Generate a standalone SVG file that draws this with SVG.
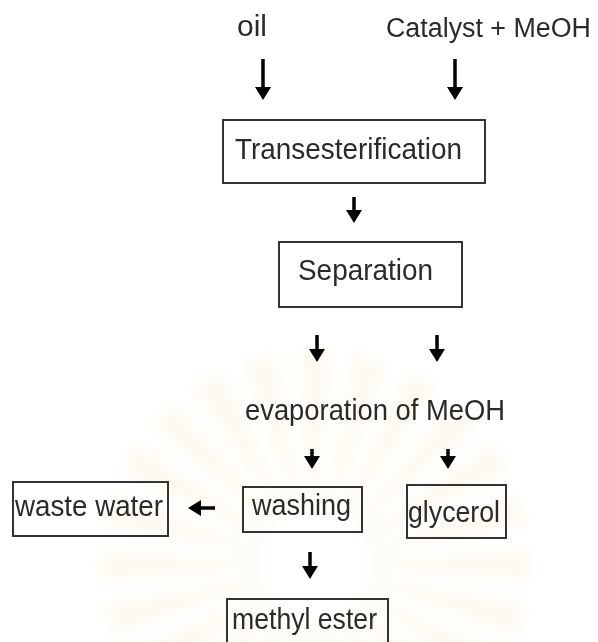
<svg xmlns="http://www.w3.org/2000/svg" xmlns:xlink="http://www.w3.org/1999/xlink" width="598" height="642" viewBox="0 0 598 642">
  <style>
    .box { fill: none; stroke: #333; stroke-width: 2; }
    .lbl { font-family: "Liberation Sans", Arial, sans-serif; font-size: 30px; fill: #2a2a2a; }
    .arr { stroke: #000; stroke-width: 3.5; fill: none; marker-end: url(#head); }
    .ray { fill: #f1dca0; }
  </style>
  <defs>
    <marker id="head" markerUnits="userSpaceOnUse" viewBox="0 0 13 16" markerWidth="13" markerHeight="16" refX="7" refY="8" orient="auto">
      <path d="M0,0 L13,8 L0,16 Z" fill="#000"/>
    </marker>
    <path id="ray" d="M-4,-55 L-17,-215 L17,-215 L4,-55 Z"/>
    <filter id="soft" x="-20%" y="-20%" width="140%" height="140%">
      <feGaussianBlur stdDeviation="6"/>
    </filter>
  </defs>
  <rect width="598" height="642" fill="#fff"/>
  <g id="watermark" transform="translate(315,565)" opacity="0.15" filter="url(#soft)" class="ray">
    <use xlink:href="#ray" transform="rotate(0)"/>
    <use xlink:href="#ray" transform="rotate(15)"/>
    <use xlink:href="#ray" transform="rotate(30)"/>
    <use xlink:href="#ray" transform="rotate(45)"/>
    <use xlink:href="#ray" transform="rotate(60)"/>
    <use xlink:href="#ray" transform="rotate(75)"/>
    <use xlink:href="#ray" transform="rotate(90)"/>
    <use xlink:href="#ray" transform="rotate(105)"/>
    <use xlink:href="#ray" transform="rotate(120)"/>
    <use xlink:href="#ray" transform="rotate(135)"/>
    <use xlink:href="#ray" transform="rotate(150)"/>
    <use xlink:href="#ray" transform="rotate(165)"/>
    <use xlink:href="#ray" transform="rotate(180)"/>
    <use xlink:href="#ray" transform="rotate(195)"/>
    <use xlink:href="#ray" transform="rotate(210)"/>
    <use xlink:href="#ray" transform="rotate(225)"/>
    <use xlink:href="#ray" transform="rotate(240)"/>
    <use xlink:href="#ray" transform="rotate(255)"/>
    <use xlink:href="#ray" transform="rotate(270)"/>
    <use xlink:href="#ray" transform="rotate(285)"/>
    <use xlink:href="#ray" transform="rotate(300)"/>
    <use xlink:href="#ray" transform="rotate(315)"/>
    <use xlink:href="#ray" transform="rotate(330)"/>
    <use xlink:href="#ray" transform="rotate(345)"/>
  </g>

  <g id="oil"><text class="lbl" x="237" y="36" textLength="30" lengthAdjust="spacingAndGlyphs">oil</text></g>
  <g id="catalyst"><text class="lbl" x="386" y="37" style="font-size:27px" textLength="205" lengthAdjust="spacingAndGlyphs">Catalyst + MeOH</text></g>
  <g id="transesterification">
    <rect class="box" x="223" y="120" width="262" height="63"/>
    <text class="lbl" x="235" y="159" textLength="227" lengthAdjust="spacingAndGlyphs">Transesterification</text>
  </g>
  <g id="separation">
    <rect class="box" x="279" y="242" width="183" height="65"/>
    <text class="lbl" x="298" y="280" textLength="135" lengthAdjust="spacingAndGlyphs">Separation</text>
  </g>
  <g id="evaporation"><text class="lbl" x="245" y="420" textLength="260" lengthAdjust="spacingAndGlyphs">evaporation of MeOH</text></g>
  <g id="waste-water">
    <rect class="box" x="13" y="482" width="155" height="54"/>
    <text class="lbl" x="15" y="516" textLength="148" lengthAdjust="spacingAndGlyphs">waste water</text>
  </g>
  <g id="washing">
    <rect class="box" x="243" y="487" width="119" height="45"/>
    <text class="lbl" x="252" y="515" textLength="99" lengthAdjust="spacingAndGlyphs">washing</text>
  </g>
  <g id="glycerol">
    <rect class="box" x="407" y="485" width="99" height="53"/>
    <text class="lbl" x="408" y="522" textLength="92" lengthAdjust="spacingAndGlyphs">glycerol</text>
  </g>
  <g id="methyl-ester">
    <rect class="box" x="227" y="599" width="161" height="52"/>
    <text class="lbl" x="232" y="629" textLength="145" lengthAdjust="spacingAndGlyphs">methyl ester</text>
  </g>

  <g id="connectors">
    <line class="arr" x1="263" y1="59" x2="263" y2="94"/>
    <line class="arr" x1="455" y1="59" x2="455" y2="94"/>
    <line class="arr" x1="354" y1="197" x2="354" y2="217"/>
    <line class="arr" x1="317" y1="335" x2="317" y2="356"/>
    <line class="arr" x1="437" y1="335" x2="437" y2="356"/>
    <line class="arr" x1="312" y1="449" x2="312" y2="463"/>
    <line class="arr" x1="448" y1="449" x2="448" y2="463"/>
    <line class="arr" x1="310" y1="552" x2="310" y2="573"/>
    <line class="arr" x1="215" y1="508" x2="194" y2="508"/>
  </g>
</svg>
